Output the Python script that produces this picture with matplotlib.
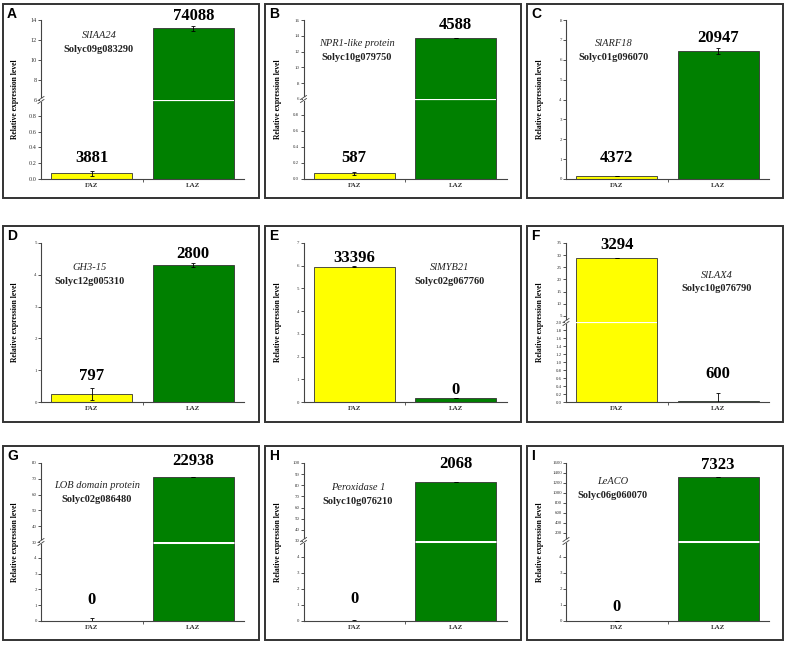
import matplotlib
matplotlib.use("Agg")
import matplotlib.pyplot as plt
from matplotlib.ticker import FormatStrFormatter
from matplotlib.patches import Rectangle
from matplotlib.lines import Line2D

# =========================================================
# DATA
# =========================================================

letters = ["A", "B", "C", "D", "E", "F", "G", "H", "I"]

genes = ["SlIAA24", "NPR1-like protein", "SlARF18",
         "GH3-15", "SlMYB21", "SlLAX4",
         "LOB domain protein", "Peroxidase 1", "LeACO"]

gene_ids = ["Solyc09g083290", "Solyc10g079750", "Solyc01g096070",
            "Solyc12g005310", "Solyc02g067760", "Solyc10g076790",
            "Solyc02g086480", "Solyc10g076210", "Solyc06g060070"]

groups = ["FAZ", "LAZ"]

faz_mean = [0.07, 0.07, 0.15, 0.24, 5.96, 29.0, 0.03, 0.0, 0.0]
laz_mean = [13.2, 13.7, 6.42, 4.30, 0.16, 0.03, 70.9, 83.0, 1320]
faz_err = [0.03, 0.02, 0.02, 0.19, 0.02, 0.0, 0.15, 0.08, 0.0]
laz_err = [0.25, 0.04, 0.15, 0.06, 0.0, 0.2, 0.0, 0.0, 0.0]

faz_reads = [3881, 587, 4372, 797, 33396, 3294, 0, 0, 0]
laz_reads = [74088, 4588, 20947, 2800, 0, 600, 22938, 2068, 7323]

lower_lim = [(0, 1.0), (0, 1.0), (0, 8), (0, 5), (0, 7),
             (0, 2.0), (0, 5), (0, 5), (0, 5)]
upper_lim = [(6, 14), (6, 16), None, None, None,
             (2.5, 35), (30, 80), (30, 100), (40, 1600)]

lower_ticks = [[0, 0.2, 0.4, 0.6, 0.8],
               [0, 0.2, 0.4, 0.6, 0.8],
               [0, 1, 2, 3, 4, 5, 6, 7, 8],
               [0, 1, 2, 3, 4, 5],
               [0, 1, 2, 3, 4, 5, 6, 7],
               [0, 0.2, 0.4, 0.6, 0.8, 1.0, 1.2, 1.4, 1.6, 1.8, 2.0],
               [0, 1, 2, 3, 4],
               [0, 1, 2, 3, 4],
               [0, 1, 2, 3, 4]]
upper_ticks = [[6, 8, 10, 12, 14],
               [6, 8, 10, 12, 14, 16],
               None, None, None,
               [5, 10, 15, 20, 25, 30, 35],
               [30, 40, 50, 60, 70, 80],
               [30, 40, 50, 60, 70, 80, 90, 100],
               [200, 400, 600, 800, 1000, 1200, 1400, 1600]]

# =========================================================
# LAYOUT (pixels of the 787x645 figure)
# =========================================================

W, H = 787, 645

col_box = [3, 265, 527]
row_box = [(4, 198), (226, 422), (446, 640)]
col_axis = [41, 303.5, 566]
row_zero = [179, 402, 621]
row_top = [20, 243, 463]
break_px = [100, 99, None, None, None, 322, 542, 541, 541]
break_lw = [1.6, 1.6, 0, 0, 0, 1.6, 2.2, 2.2, 2.2]
gene_px = [(99, 35), (357, 43), (614, 43),
           (90, 268), (450, 267), (717, 275),
           (97, 486), (358, 487), (613, 481)]
# gap (px) between bar/error top and the baseline of the count label
label_gap = [(9, 5.5), (10, 9), (14, 6), (8, 5), (4, 4), (9, 15),
             (14, 12), (17, 14), (10, 8)]
tick_size = [4.5, 3.5, 3.5, 3.5, 3.5, 3.5, 3.5, 3.5, 3.5]
lower_fmt = ["%.1f", "%.1f", "%d", "%d", "%d", "%.1f", "%d", "%d", "%d"]
AX_W = 203

SERIF = "Liberation Serif"
YELLOW = "#FFFF00"
GREEN = "#008000"
SPINE = "#444444"


def fx(x):
    return x / W


def fy(y):
    return 1 - y / H


fig = plt.figure(figsize=(W / 100, H / 100), dpi=100)

x_pos = [1, 2]

for i in range(9):

    r, c = divmod(i, 3)
    bx0 = col_box[c]
    by0, by1 = row_box[r]

    # panel frame
    fig.add_artist(Rectangle((fx(bx0), fy(by1)), 256 / W, (by1 - by0) / H,
                             transform=fig.transFigure, fill=False,
                             ec="#333333", lw=1.4))

    fig.text(fx(bx0 + 4), fy(by0 + 3), letters[i], ha="left", va="top",
             fontsize=10, fontweight="bold", family="Liberation Sans")

    ax_x = col_axis[c]
    y0 = row_zero[r]
    yt = row_top[r]
    yb = break_px[i] if upper_lim[i] is not None else yt

    lower = fig.add_axes([fx(ax_x), fy(y0), AX_W / W, (y0 - yb) / H])
    axes = [lower]
    if upper_lim[i] is not None:
        upper = fig.add_axes([fx(ax_x), fy(yb), AX_W / W, (yb - yt) / H])
        axes.append(upper)

    means = [faz_mean[i], laz_mean[i]]
    errs = [faz_err[i], laz_err[i]]
    reads = [faz_reads[i], laz_reads[i]]

    for ax in axes:
        ax.bar(x_pos, means, width=0.8, color=[YELLOW, GREEN],
               edgecolor="#333333", linewidth=0.6, zorder=2)
        ax.errorbar(x_pos, means, yerr=errs, fmt="none", ecolor="black",
                    elinewidth=0.6, capsize=1.5, capthick=0.6, zorder=3)
        ax.set_xlim(0.5, 2.5)
        ax.spines["top"].set_visible(False)
        ax.spines["right"].set_visible(False)
        ax.spines["left"].set_color(SPINE)
        ax.spines["bottom"].set_color(SPINE)
        ax.spines["left"].set_linewidth(0.8)
        ax.spines["bottom"].set_linewidth(0.8)
        ax.tick_params(axis="y", labelsize=tick_size[i], length=2,
                       width=0.6, pad=1, colors="#333333")
        ax.patch.set_alpha(0)

    lower.set_ylim(*lower_lim[i])
    lower.set_yticks(lower_ticks[i])
    lower.yaxis.set_major_formatter(FormatStrFormatter(lower_fmt[i]))
    lower.set_xticks(x_pos)
    lower.set_xticklabels(groups, fontsize=5, family=SERIF,
                          fontweight="bold", color="#333333")
    lower.tick_params(axis="x", length=0, pad=3)
    lower.set_xticks([1.5], minor=True)
    lower.tick_params(axis="x", which="minor", length=2, width=0.6,
                      color=SPINE)
    for lab in lower.get_yticklabels():
        lab.set_family(SERIF)

    if upper_lim[i] is not None:
        upper.set_ylim(*upper_lim[i])
        upper.set_yticks(upper_ticks[i])
        upper.yaxis.set_major_formatter(FormatStrFormatter("%d"))
        upper.spines["bottom"].set_visible(False)
        upper.set_xticks([])
        for lab in upper.get_yticklabels():
            lab.set_family(SERIF)

        # white cut across bars that pass the break
        top_low = lower_lim[i][1]
        for xp, m in zip(x_pos, means):
            if m > top_low:
                lower.hlines(top_low, xp - 0.4, xp + 0.4, color="white",
                             lw=break_lw[i], clip_on=False, zorder=5)

        # break mark on the y axis
        fig.add_artist(Rectangle((fx(ax_x - 1), fy(yb + 2)), 2 / W, 4 / H,
                                 transform=fig.transFigure, fc="white",
                                 ec="none", zorder=6))
        for dy in (-1.5, 1.5):
            fig.add_artist(Line2D([fx(ax_x - 3), fx(ax_x + 3)],
                                  [fy(yb + dy + 2), fy(yb + dy - 2)],
                                  transform=fig.transFigure, color=SPINE,
                                  lw=0.6, zorder=7))

    # read counts above bars
    for xp, m, e, n, gap in zip(x_pos, means, errs, reads, label_gap[i]):
        top = m + e
        target = lower
        if upper_lim[i] is not None and top > lower_lim[i][1]:
            target = upper
        target.annotate(str(n), (xp, top), xytext=(0, gap * 0.72),
                        textcoords="offset points", ha="center",
                        va="baseline", fontsize=12, fontweight="bold",
                        family=SERIF, annotation_clip=False)

    # gene labels
    gx, gy = gene_px[i]
    fig.text(fx(gx), fy(gy), genes[i], ha="center", va="center",
             fontsize=7.5, style="italic", family=SERIF, color="#222222")
    fig.text(fx(gx), fy(gy + 14), gene_ids[i], ha="center", va="center",
             fontsize=7.5, fontweight="bold", family=SERIF, color="#222222")

    # y label
    fig.text(fx(ax_x - 26), fy((y0 + yt) / 2), "Relative expression level",
             rotation=90, ha="center", va="center", fontsize=5.5,
             fontweight="bold", family=SERIF)

fig.savefig("out.png", dpi=100)
